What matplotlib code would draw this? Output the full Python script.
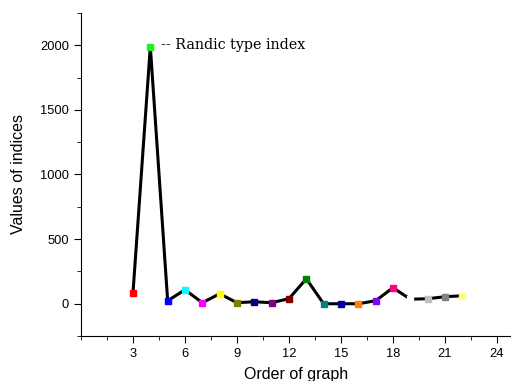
import matplotlib
matplotlib.use("Agg")
import matplotlib.pyplot as plt
from matplotlib.ticker import MultipleLocator

order = [3, 4, 5, 6, 7, 8, 9, 10, 11, 12, 13, 14, 15, 16, 17, 18, 19, 20, 21, 22]
values = [85, 1990, 23, 108, 8, 77, 8, 15, 8, 39, 193, 0, 0, 0, 23, 124, 35, 39, 54, 62]
colors = ["#ff0000", "#22ee22", "#0000ff", "#00ffff", "#ff00ff", "#ffff00",
          "#808000", "#000080", "#800080", "#800000", "#008000", "#008080",
          "#0000a0", "#ff8000", "#8000ff", "#ff0080", "#ffffff", "#c0c0c0",
          "#808080", "#ffff80"]

fig = plt.figure(figsize=(5.11, 3.81), dpi=100)
ax = fig.add_axes([0.1585, 0.118, 0.8415, 0.848])

ax.plot(order, values, color="black", lw=2.2, zorder=2)
for x, y, c in zip(order, values, colors):
    ax.plot(x, y, marker="s", ms=5, color=c, mec=c, ls="none", zorder=3)

ax.text(4.6, 2005, "-- Randic type index", family="DejaVu Serif",
        fontsize=10.3, va="center", ha="left")

ax.set_xlim(0, 24.81)
ax.set_ylim(-250, 2250)
ax.xaxis.set_major_locator(MultipleLocator(3))
ax.xaxis.set_minor_locator(MultipleLocator(1.5))
ax.yaxis.set_major_locator(MultipleLocator(500))
ax.yaxis.set_minor_locator(MultipleLocator(250))
ax.set_xticks([3, 6, 9, 12, 15, 18, 21, 24])

for s in ["top", "right"]:
    ax.spines[s].set_visible(False)
ax.tick_params(which="major", direction="out", length=5, labelsize=9.3)
ax.tick_params(which="minor", direction="out", length=3)
for lab in ax.get_xticklabels() + ax.get_yticklabels():
    lab.set_family("Liberation Sans")

ax.set_xlabel("Order of graph", family="Liberation Sans", fontsize=11.5, labelpad=5)
ax.set_ylabel("Values of indices", family="Liberation Sans", fontsize=11.5, labelpad=10)

fig.savefig("out.png", dpi=100)
